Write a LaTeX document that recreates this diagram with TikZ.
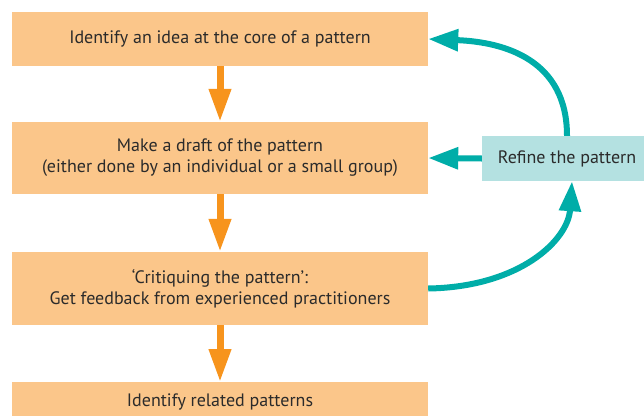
\documentclass[tikz,border=0pt]{standalone}
\usepackage{fontspec}
\setmainfont{PT Sans}
\usetikzlibrary{arrows.meta}
\definecolor{stepfill}{HTML}{FBC68A}
\definecolor{steparrow}{HTML}{F7941D}
\definecolor{loopteal}{HTML}{00ADA8}
\definecolor{refinefill}{HTML}{B4E1E1}
\definecolor{txt}{HTML}{2B2B2B}
\tikzset{
  boxfont/.style={font=\fontsize{18}{21}\selectfont},
  stepbox/.style={fill=stepfill, draw=none, minimum width=416pt, inner sep=0pt,
    align=center, text=txt, boxfont},
  refinebox/.style={fill=refinefill, draw=none, minimum width=170pt, minimum height=45pt,
    inner sep=0pt, align=center, text=txt, boxfont},
  flow/.style={draw=steparrow, line width=7pt, -{Triangle[length=33pt,width=21pt]}},
  loop/.style={draw=loopteal, line width=6pt, -{Triangle[length=30pt,width=21pt]}},
}
\begin{document}
\begin{tikzpicture}[x=1pt,y=-1pt]
\useasboundingbox (0,0) rectangle (644,415);
% main flow of steps
\node[stepbox, minimum height=54pt] (s1) at (220,39) {Identify an idea at the core of a pattern};
\node[stepbox, minimum height=72pt] (s2) at (220,158) {Make a draft of the pattern\\(either done by an individual or a small group)};
\node[stepbox, minimum height=73pt] (s3) at (220,288.5) {`Critiquing the pattern':\\Get feedback from experienced practitioners};
\node[stepbox, minimum height=54pt, anchor=north] (s4) at (220,382) {};
\node[text=txt, boxfont] (s4t) at (220,402) {Identify related patterns};
% side step
\node[refinebox] (r) at (567,158.5) {Refine the pattern};
% downward flow
\draw[flow] (s1.south) -- (s2.north);
\draw[flow] (s2.south) -- (s3.north);
\draw[flow] (s3.south) -- (s4.north);
% refinement loop
\draw[loop] (r.west) -- (s2.east);
\draw[loop] (r.north) .. controls (567,60) and (505,42) .. (s1.east);
\draw[loop] (s3.east) .. controls (520,287) and (568,240) .. ([xshift=5pt]r.south);
\end{tikzpicture}
\end{document}
